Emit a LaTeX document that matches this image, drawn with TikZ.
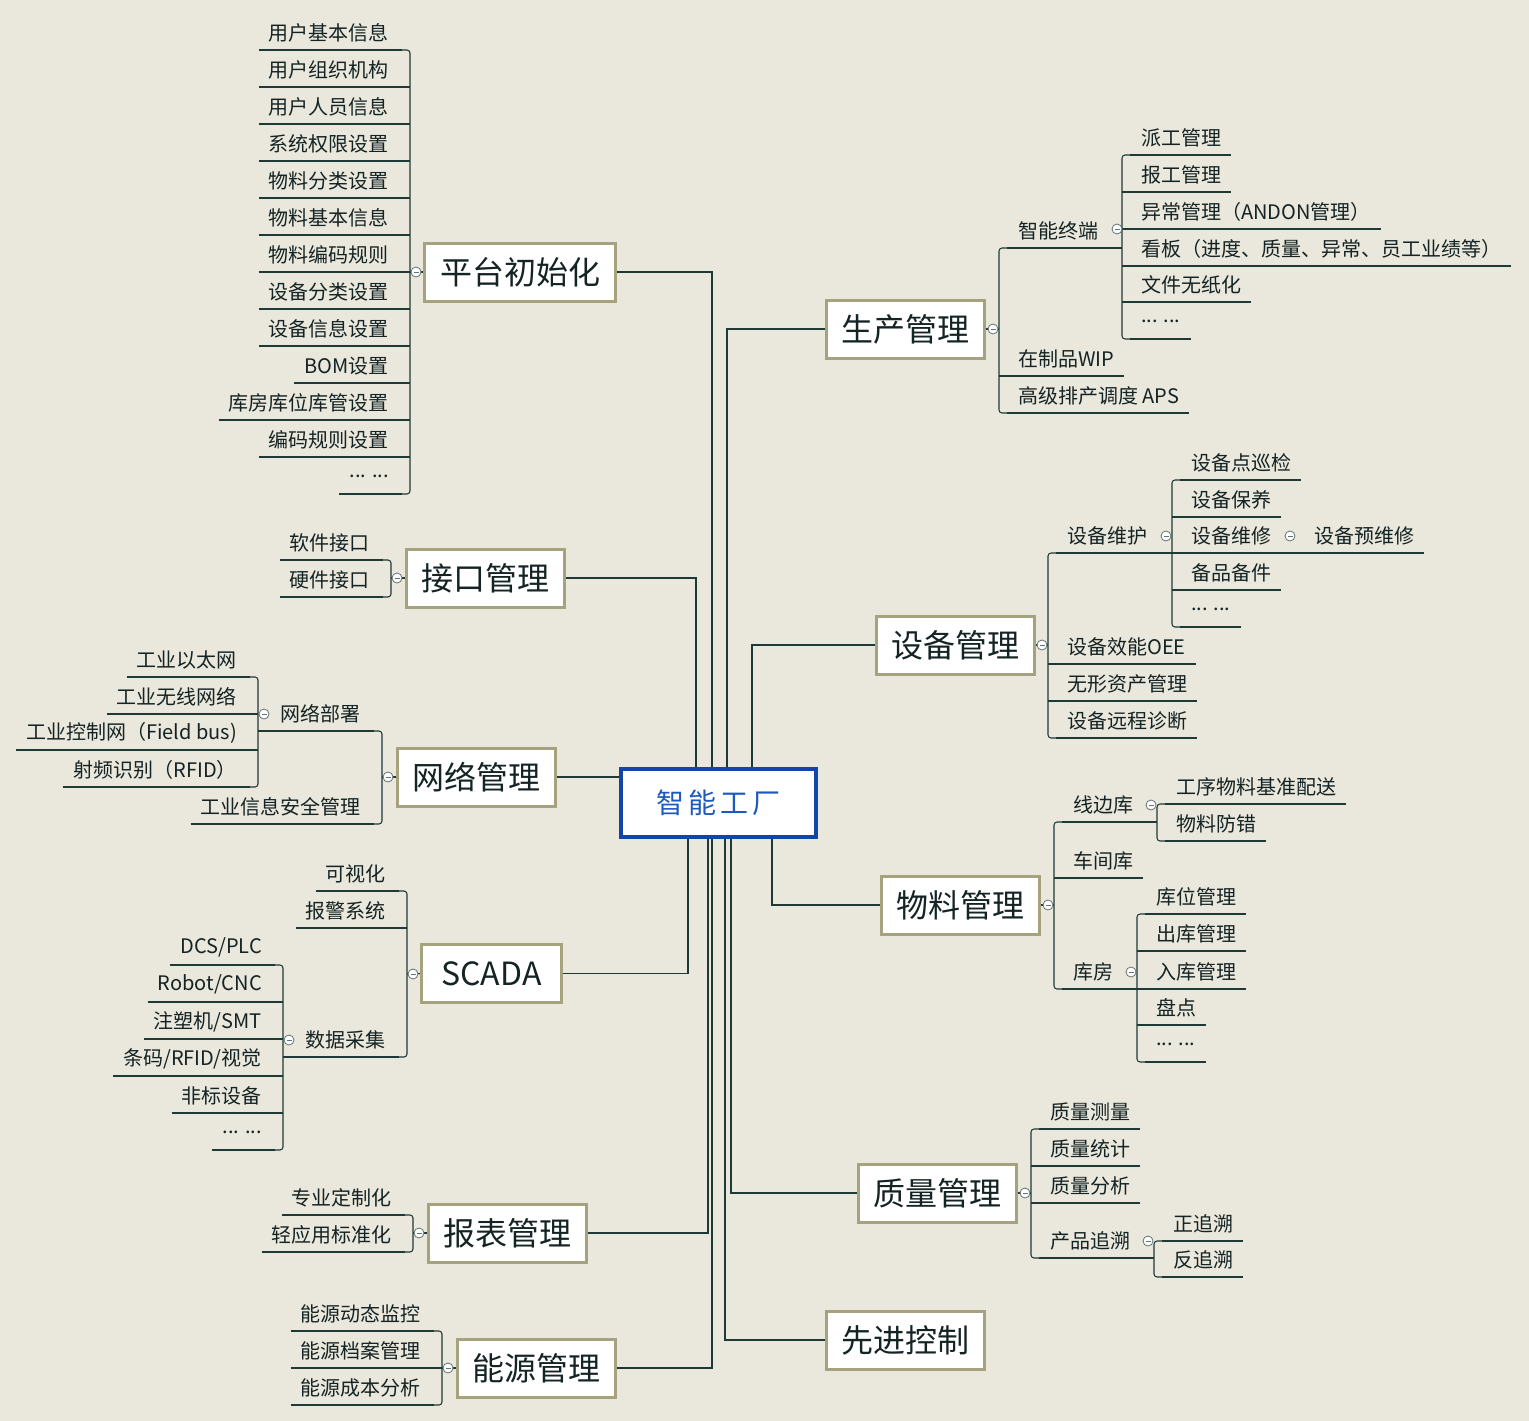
\documentclass[tikz,border=0pt]{standalone}
\usepackage{fontspec}
\setmainfont{Noto Sans CJK SC}
\usetikzlibrary{backgrounds}
\definecolor{bg}{RGB}{234,231,220}
\definecolor{boxB}{RGB}{166,162,126}
\definecolor{lnC}{RGB}{30,58,54}
\definecolor{txt}{RGB}{20,35,35}
\definecolor{blueB}{RGB}{18,70,166}
\definecolor{blueT}{RGB}{30,90,190}
\definecolor{circB}{RGB}{100,115,115}
\newcommand\leaffont{\fontsize{20}{24}\selectfont}
\newcommand\topicfont{\fontsize{32}{38}\selectfont}
\newcommand\centfont{\fontsize{28}{32}\selectfont}
% left leaf: [shorten]{name}{bx}{yu}{text}
\newcommand{\LL}[5][0]{\node[leafL] (#2) at (#3-21,#4) {#5};
  \begin{scope}[on background layer]\draw[ln] ([xshift=-10pt]#2.south west) -- (#3-#1,#4);\end{scope}}
% left parent leaf: [shorten]{name}{bx}{yu}{text}{subbx}
\newcommand{\LP}[6][0]{\node[leafL] (#2) at (#3-21,#4) {#5};
  \begin{scope}[on background layer]\draw[ln] (#6,#4) -- (#3-#1,#4);\end{scope}}
% right leaf
\newcommand{\RL}[5][0]{\node[leafR] (#2) at (#3+19,#4) {#5};
  \begin{scope}[on background layer]\draw[ln] (#3+#1,#4) -- ([xshift=10pt]#2.south east);\end{scope}}
% right parent leaf
\newcommand{\RP}[6][0]{\node[leafR] (#2) at (#3+19,#4) {#5};
  \begin{scope}[on background layer]\draw[ln] (#3+#1,#4) -- (#6,#4);\end{scope}}
\newcommand{\BrL}[3]{\begin{scope}[on background layer]\draw[ln,rounded corners=3pt] (#1-8,#2) -- (#1,#2) -- (#1,#3) -- (#1-8,#3);\end{scope}}
\newcommand{\BrR}[3]{\begin{scope}[on background layer]\draw[ln,rounded corners=3pt] (#1+8,#2) -- (#1,#2) -- (#1,#3) -- (#1+8,#3);\end{scope}}
\newcommand{\Circ}[3]{\node[circ] (#1) at (#2,#3) {};}
\begin{document}
\begin{tikzpicture}[x=1pt,y=-1pt,
  ln/.style={draw=lnC, line width=1.05pt},
  leafL/.style={anchor=south east, minimum height=34pt, inner sep=0pt, font=\leaffont, text=txt},
  leafR/.style={anchor=south west, minimum height=34pt, inner sep=0pt, font=\leaffont, text=txt},
  topic/.style={draw=boxB, line width=3pt, fill=white, minimum width=158pt, minimum height=58pt, inner sep=0pt, font=\topicfont, text=txt},
  centerbox/.style={draw=blueB, line width=4pt, fill=white, minimum width=195pt, minimum height=68pt, inner sep=0pt, font=\centfont, text=blueT},
  circ/.style={circle, draw=circB, fill=white, line width=0.8pt, minimum size=10pt, inner sep=0pt,
    path picture={\draw[circB, line width=0.8pt] ([xshift=-2.5pt]path picture bounding box.center) -- ([xshift=2.5pt]path picture bounding box.center);}}]
\begin{scope}[on background layer]
\fill[bg] (0,0) rectangle (1529,1421);
\end{scope}
\useasboundingbox (0,0) rectangle (1529,1421);

% center and main topics
\node[centerbox] (c) at (718.5,803) {智\hspace{4pt}能\hspace{4pt}工\hspace{4pt}厂};
\node[topic, minimum width=191pt] (p1) at (520,272) {平台初始化};
\node[topic] (p2) at (485,578) {接口管理};
\node[topic] (p3) at (476,777) {网络管理};
\node[topic, minimum width=140pt] (p4) at (491.5,973.5) {SCADA};
\node[topic] (p5) at (507,1233) {报表管理};
\node[topic] (p6) at (536,1368) {能源管理};
\node[topic] (q1) at (905,329) {生产管理};
\node[topic] (q2) at (955,645) {设备管理};
\node[topic] (q3) at (960,905) {物料管理};
\node[topic] (q4) at (937,1193) {质量管理};
\node[topic] (q5) at (905,1340) {先进控制};

% trunks
\begin{scope}[on background layer]
\draw[ln] ([xshift=-6.5pt]c.north) |- (p1.east);
\draw[ln] ([xshift=-22.5pt]c.north) |- (p2.east);
\draw[ln] (p3.east) -- (p3.east -| c.west);
\draw[ln] ([xshift=-30.5pt]c.south) |- (p4.east);
\draw[ln] ([xshift=-10.5pt]c.south) |- (p5.east);
\draw[ln] ([xshift=-6.5pt]c.south) |- (p6.east);
\draw[ln] ([xshift=8.5pt]c.north) |- (q1.west);
\draw[ln] ([xshift=33.5pt]c.north) |- (q2.west);
\draw[ln] ([xshift=53.5pt]c.south) |- (q3.west);
\draw[ln] ([xshift=12.5pt]c.south) |- (q4.west);
\draw[ln] ([xshift=6.5pt]c.south) |- (q5.west);
\draw[ln] (p1.west) -- (410,272);
\draw[ln] (p2.west) -- (391,578);
\draw[ln] (p3.west) -- (382,777);
\draw[ln] (p4.west) -- (407,974);
\draw[ln] (p5.west) -- (413,1233);
\draw[ln] (p6.west) -- (442,1368);
\draw[ln] (q1.east) -- (999,329);
\draw[ln] (q2.east) -- (1048,645);
\draw[ln] (q3.east) -- (1054,905);
\draw[ln] (q4.east) -- (1031,1193);
\end{scope}

% 平台初始化
\LL[8]{a1}{410}{50}{用户基本信息}
\LL{a2}{410}{87}{用户组织机构}
\LL{a3}{410}{124}{用户人员信息}
\LL{a4}{410}{161}{系统权限设置}
\LL{a5}{410}{198}{物料分类设置}
\LL{a6}{410}{235}{物料基本信息}
\LL{a7}{410}{272}{物料编码规则}
\LL{a8}{410}{309}{设备分类设置}
\LL{a9}{410}{346}{设备信息设置}
\LL{a10}{410}{383}{BOM设置}
\LL{a11}{410}{420}{库房库位库管设置}
\LL{a12}{410}{457}{编码规则设置}
\LL[8]{a13}{410}{494}{... ...}
\BrL{410}{50}{494}
\Circ{o1}{416}{272}

% 接口管理
\LL[8]{b1}{391}{560}{软件接口}
\LL[8]{b2}{391}{597}{硬件接口}
\BrL{391}{560}{597}
\Circ{o2}{397}{578}

% 网络管理
\LP[8]{c1}{382}{731}{网络部署}{258}
\LL[8]{c2}{382}{824}{工业信息安全管理}
\BrL{382}{731}{824}
\Circ{o3}{388}{777}
\LL[8]{c11}{258}{677}{工业以太网}
\LL{c12}{258}{714}{工业无线网络}
\LL{c13}{258}{750}{工业控制网（Field bus)}
\LL[8]{c14}{258}{787}{射频识别（RFID）}
\BrL{258}{677}{787}
\Circ{o31}{264}{714}

% SCADA
\LL[8]{d1}{407}{891}{可视化}
\LL{d2}{407}{928}{报警系统}
\LP[8]{d3}{407}{1057}{数据采集}{283}
\BrL{407}{891}{1057}
\Circ{o4}{413}{974}
\LL[8]{d31}{283}{965}{DCS/PLC}
\LL{d32}{283}{1002}{Robot/CNC}
\LL{d33}{283}{1039}{注塑机/SMT}
\LL{d34}{283}{1076}{条码/RFID/视觉}
\LL{d35}{283}{1113}{非标设备}
\LL[8]{d36}{283}{1150}{... ...}
\BrL{283}{965}{1150}
\Circ{o41}{289}{1040}

% 报表管理
\LL[8]{e1}{413}{1215}{专业定制化}
\LL[8]{e2}{413}{1252}{轻应用标准化}
\BrL{413}{1215}{1252}
\Circ{o5}{419}{1233}

% 能源管理
\LL[8]{f1}{442}{1331}{能源动态监控}
\LL{f2}{442}{1368}{能源档案管理}
\LL[8]{f3}{442}{1405}{能源成本分析}
\BrL{442}{1331}{1405}
\Circ{o6}{448}{1368}

% 生产管理
\RP[8]{g1}{999}{248}{智能终端}{1122}
\RL{g2}{999}{376}{在制品WIP}
\RL[8]{g3}{999}{413}{高级排产调度 APS}
\BrR{999}{248}{413}
\Circ{o7}{993}{329}
\RL[8]{g11}{1122}{155}{派工管理}
\RL{g12}{1122}{192}{报工管理}
\RL{g13}{1122}{229}{异常管理（ANDON管理）}
\RL{g14}{1122}{266}{看板（进度、质量、异常、员工业绩等）}
\RL{g15}{1122}{302}{文件无纸化}
\RL[8]{g16}{1122}{339}{... ...}
\BrR{1122}{155}{339}
\Circ{o71}{1117}{229}

% 设备管理
\RP[8]{h1}{1048}{553}{设备维护}{1172}
\RL{h2}{1048}{664}{设备效能OEE}
\RL{h3}{1048}{701}{无形资产管理}
\RL[8]{h4}{1048}{738}{设备远程诊断}
\BrR{1048}{553}{738}
\Circ{o8}{1042}{645}
\RL[8]{h11}{1172}{480}{设备点巡检}
\RL{h12}{1172}{517}{设备保养}
\RL{h13}{1172}{553}{设备维修}
\RL{h14}{1172}{590}{备品备件}
\RL[8]{h15}{1172}{627}{... ...}
\BrR{1172}{480}{627}
\Circ{o81}{1166}{536}
\node[leafR] (h131) at (1314,553) {设备预维修};
\begin{scope}[on background layer]\draw[ln] (h13.south east) -- ([xshift=10pt]h131.south east);\end{scope}
\Circ{o82}{1290}{536}

% 物料管理
\RP[8]{i1}{1054}{822}{线边库}{1157}
\RL{i2}{1054}{878}{车间库}
\RP[8]{i3}{1054}{989}{库房}{1137}
\BrR{1054}{822}{989}
\Circ{o9}{1048}{905}
\RL[8]{i11}{1157}{804}{工序物料基准配送}
\RL[8]{i12}{1157}{841}{物料防错}
\BrR{1157}{804}{841}
\Circ{o91}{1151}{805}
\RL[8]{i31}{1137}{914}{库位管理}
\RL{i32}{1137}{951}{出库管理}
\RL{i33}{1137}{989}{入库管理}
\RL{i34}{1137}{1025}{盘点}
\RL[8]{i35}{1137}{1062}{... ...}
\BrR{1137}{914}{1062}
\Circ{o92}{1131}{972}

% 质量管理
\RL[8]{j1}{1031}{1129}{质量测量}
\RL{j2}{1031}{1166}{质量统计}
\RL{j3}{1031}{1203}{质量分析}
\RP[8]{j4}{1031}{1258}{产品追溯}{1154}
\BrR{1031}{1129}{1258}
\Circ{o10}{1025}{1193}
\RL[8]{j41}{1154}{1241}{正追溯}
\RL[8]{j42}{1154}{1277}{反追溯}
\BrR{1154}{1241}{1277}
\Circ{o101}{1148}{1241}
\end{tikzpicture}
\end{document}
